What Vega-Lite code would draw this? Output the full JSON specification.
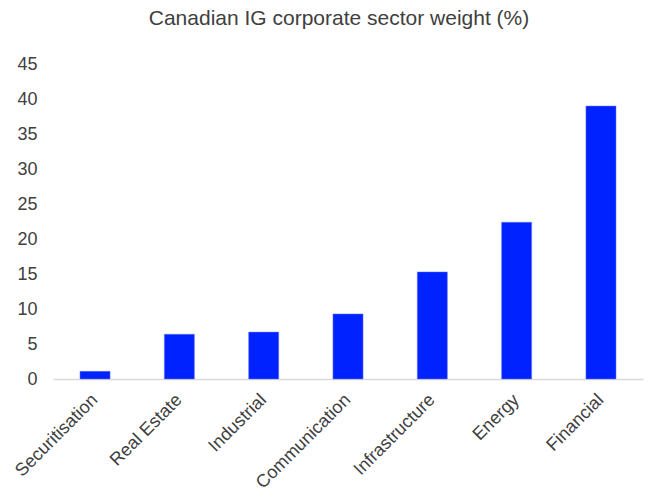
{
  "$schema": "https://vega.github.io/schema/vega-lite/v6.json",
  "width": 590,
  "height": 315,
  "autosize": {"type": "none"},
  "padding": {"left": 53, "top": 64, "right": 8, "bottom": 113},
  "background": "white",
  "title": {
    "text": "Canadian IG corporate sector weight (%)",
    "font": "Liberation Sans",
    "fontSize": 21,
    "fontWeight": "normal",
    "color": "#404040",
    "anchor": "middle",
    "baseline": "alphabetic",
    "offset": 9,
    "dx": -9
  },
  "config": {
    "view": {"stroke": null},
    "font": "Liberation Sans"
  },
  "data": {
    "values": [
      {"sector": "Securitisation", "weight": 1.1},
      {"sector": "Real Estate", "weight": 6.4},
      {"sector": "Industrial", "weight": 6.7},
      {"sector": "Communication", "weight": 9.3},
      {"sector": "Infrastructure", "weight": 15.3},
      {"sector": "Energy", "weight": 22.4},
      {"sector": "Financial", "weight": 39.0}
    ]
  },
  "mark": {"type": "bar", "color": "#0022FF", "stroke": "#6f7fff", "strokeWidth": 0.5},
  "encoding": {
    "x": {
      "field": "sector",
      "type": "nominal",
      "sort": null,
      "title": null,
      "scale": {"paddingInner": 0.643, "paddingOuter": 0.32},
      "axis": {
        "labelAngle": -45,
        "labelAlign": "right",
        "labelBaseline": "middle",
        "labelFontSize": 18,
        "labelColor": "#404040",
        "labelPadding": 18,
        "ticks": false,
        "domainColor": "#d9d9d9",
        "domainWidth": 1.5,
        "grid": false
      }
    },
    "y": {
      "field": "weight",
      "type": "quantitative",
      "title": null,
      "scale": {"domain": [0, 45], "nice": false},
      "axis": {
        "values": [0, 5, 10, 15, 20, 25, 30, 35, 40, 45],
        "labelFontSize": 18,
        "labelColor": "#404040",
        "labelPadding": 16,
        "ticks": false,
        "domain": false,
        "grid": false
      }
    }
  }
}
